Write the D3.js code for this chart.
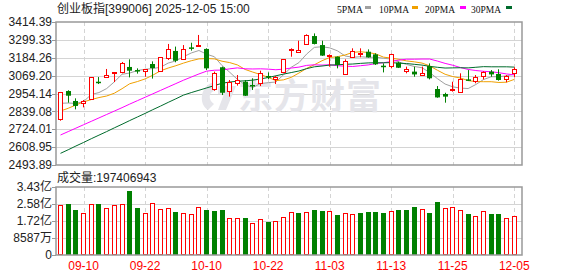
<!DOCTYPE html>
<html><head><meta charset="utf-8">
<script src="https://cdn.jsdelivr.net/npm/d3@7"></script>
<style>body{margin:0;background:#fff;} svg{display:block;}</style>
</head><body>
<svg id="c" width="578" height="276"></svg>
<script>
// ---------- data ----------
const dates = ["09-05","09-08","09-09","09-10","09-11","09-12","09-15","09-16","09-17","09-18",
"09-19","09-22","09-23","09-24","09-25","09-26","09-29","09-30","10-09","10-10",
"10-13","10-14","10-15","10-16","10-17","10-20","10-21","10-22","10-23","10-24",
"10-27","10-28","10-29","10-30","10-31","11-03","11-04","11-05","11-06","11-07",
"11-10","11-11","11-12","11-13","11-14","11-17","11-18","11-19","11-20","11-21",
"11-24","11-25","11-26","11-27","11-28","12-01","12-02","12-03","12-04","12-05"];
const opens = [2792,2970,2906,2895,2919,3030,3058,3084,3095,3125,3105,3101,3144,3097,3180,3228,3174,3251,3262,3241,
2981,3123,2972,3020,3030,3009,3024,3067,3047,3095,3234,3219,3273,3324,3266,3195,3191,3077,3191,3208,
3223,3206,3133,3133,3153,3101,3095,3073,3131,2983,2951,2977,2966,3045,3037,3069,3095,3080,3045,3088];
const highs = [2964,2975,2923,2912,3060,3060,3112,3092,3157,3174,3116,3112,3161,3189,3273,3256,3266,3281,3331,3245,
3095,3127,3041,3073,3041,3052,3101,3090,3067,3176,3245,3294,3335,3341,3294,3206,3193,3174,3245,3245,
3238,3213,3148,3210,3159,3127,3127,3127,3148,3002,2959,3030,3084,3105,3073,3097,3105,3110,3073,3123];
const lows = [2779,2895,2852,2865,2916,3015,3056,3028,3084,3058,3082,3062,3050,3095,3170,3155,3172,3230,3258,3105,
2972,2944,2934,3005,2938,2977,3002,3047,3015,3084,3191,3217,3268,3270,3196,3127,3116,3075,3189,3187,
3185,3138,3090,3116,3118,3084,3062,3071,3045,2927,2895,2966,2964,3035,3020,3045,3062,3037,3026,3058];
const closes = [2962,2940,2874,2906,3058,3022,3071,3090,3148,3101,3099,3110,3118,3187,3238,3165,3240,3243,3268,3116,
3084,2959,3028,3039,2940,3000,3084,3058,3063,3174,3241,3234,3331,3273,3198,3204,3138,3165,3230,3217,
3187,3142,3127,3208,3120,3110,3077,3084,3052,2929,2934,2985,3045,3037,3058,3095,3077,3041,3067,3110];
// volume, in 亿
const volumes = [2.526,2.576,2.273,2.105,2.559,2.576,2.374,2.509,2.559,3.233,
2.374,2.105,2.610,2.324,2.374,2.172,2.121,2.071,2.408,2.273,
2.222,2.273,1.869,1.869,1.869,1.600,1.802,1.667,1.717,1.903,
2.155,2.121,2.155,2.273,2.222,2.206,2.020,2.105,2.054,2.121,
2.172,2.172,2.121,2.222,2.273,2.273,2.425,2.324,2.121,2.677,
2.374,2.425,2.256,2.071,1.970,2.222,2.071,2.071,1.869,1.990];
const ma5 = [2891,2893,2890,2902,2948,2960,2986,3029,3078,3086,3102,3110,3115,3123,3150,3164,3191,3215,3231,3207,
3191,3134,3091,3045,3010,2993,3018,3024,3028,3075,3123,3153,3208,3251,3255,3248,3229,3196,3187,3191,
3187,3188,3181,3176,3157,3141,3128,3120,3089,3050,3015,2997,2989,2986,3012,3044,3062,3062,3068,3078];
const ma10 = [2841,2859,2880,2900,2915,2928,2938,2956,2985,3017,3031,3048,3072,3100,3118,3133,3150,3165,3177,3179,
3177,3162,3153,3138,3109,3092,3076,3058,3037,3042,3058,3086,3116,3139,3165,3186,3191,3202,3219,3223,
3218,3209,3188,3182,3174,3164,3158,3150,3132,3104,3078,3063,3054,3037,3031,3030,3030,3025,3027,3045];
const ma20 = [2687,2709,2731,2753,2775,2797,2819,2841,2863,2886,2908,2930,2952,2974,2996,3018,3040,3060,3080,3098,
3104,3105,3113,3119,3113,3112,3113,3111,3107,3111,3118,3124,3135,3139,3137,3139,3133,3130,3128,3133,
3138,3147,3152,3160,3169,3175,3175,3176,3176,3163,3148,3136,3121,3109,3102,3097,3094,3088,3080,3074];
const ma30 = [2569,2592,2616,2639,2663,2686,2709,2733,2756,2780,2803,2826,2850,2873,2897,2920,2944,2960,2975,2990,
3005,3020,3028,3033,3036,3040,3048,3057,3068,3079,3089,3099,3114,3126,3131,3137,3139,3142,3144,3148,
3151,3152,3152,3153,3149,3147,3142,3137,3129,3123,3118,3119,3120,3119,3123,3127,3126,3126,3126,3124];
const priceTicks = [2493.89,2608.95,2724.01,2839.08,2954.14,3069.20,3184.26,3299.33,3414.39];
const priceTickLabels = ["2493.89","2608.95","2724.01","2839.08","2954.14","3069.20","3184.26","3299.33","3414.39"];
const volTicks = [0,0.8587,1.7174,2.5761,3.4348];
const volTickLabels = ["0","8587万","1.72亿","2.58亿","3.43亿"];
const xTickIdx = [3,11,19,27,35,43,51,59];
const maNames = ["5PMA","10PMA","20PMA","30PMA"];
const maColors = ["#a0a0a0","#f0a000","#ff00ff","#006b2c"];
const title = "创业板指[399006] 2025-12-05 15:00";
const volTitle = "成交量:197406943";

// ---------- layout ----------
const svg = d3.select("#c");
const L=56, R=522, T=22, B=165, VT=187, VB=255;
const RED="#ff0000", GREEN="#008000", GRID="#d4d4d4", FRAME="#999";
const x = d3.scaleBand().domain(d3.range(dates.length)).range([56.65, 518.15]);
const cx = i => x(i) + x.bandwidth()/2;
const y = d3.scaleLinear().domain([2493.89, 3414.39]).range([B, T]);
const yv = d3.scaleLinear().domain([0, 3.4348]).range([VB, VT]);
const font = "'Liberation Sans', Arial, 'Noto Sans CJK SC', sans-serif";

// grids
function hgrid(vals, sc) {
  svg.append("g").selectAll("line").data(vals).join("line")
    .attr("x1", L).attr("x2", R)
    .attr("y1", d => Math.round(sc(d))+0.5).attr("y2", d => Math.round(sc(d))+0.5)
    .attr("stroke", GRID).attr("stroke-width", 1);
}
hgrid(priceTicks.slice(1,-1), y);
hgrid(volTicks.slice(1,-1), yv);
[[T,B],[VT,VB]].forEach(([a,b]) => {
  svg.append("g").selectAll("line").data(xTickIdx).join("line")
    .attr("x1", i => Math.round(cx(i))+0.5).attr("x2", i => Math.round(cx(i))+0.5)
    .attr("y1", a).attr("y2", b)
    .attr("stroke", GRID).attr("stroke-width", 1).attr("stroke-dasharray", "4,3");
});

// watermark
const wm = svg.append("g").attr("fill", "#e5e5ea");
wm.append("path").attr("d", "M214,82 C200,86 198,104 208,110 L214,104 C208,100 208,92 216,90 Z M218,86 L236,86 L226,110 L218,110 L224,94 L218,94 Z");
wm.append("text").attr("x", 238).attr("y", 109).attr("font-size", 35).attr("font-weight", "bold")
  .attr("font-family", "'Noto Sans CJK SC', sans-serif").attr("letter-spacing", "1").text("东方财富");

// y axis tick labels
svg.append("g").selectAll("text").data(priceTicks).join("text")
  .attr("x", 52).attr("y", d => y(d)).attr("dy", "0.35em")
  .attr("text-anchor", "end").attr("font-size", 12).attr("font-family", font).attr("fill", "#222")
  .text((d,i) => priceTickLabels[i]);
svg.append("g").selectAll("line").data(priceTicks).join("line")
  .attr("x1", 52).attr("x2", L).attr("y1", d => Math.round(y(d))+0.5).attr("y2", d => Math.round(y(d))+0.5)
  .attr("stroke", FRAME);
svg.append("g").selectAll("text").data(volTicks).join("text")
  .attr("x", 52).attr("y", d => yv(d)).attr("dy", "0.35em")
  .attr("text-anchor", "end").attr("font-size", 12).attr("font-family", font).attr("fill", "#222")
  .text((d,i) => volTickLabels[i]);
svg.append("g").selectAll("line").data(volTicks).join("line")
  .attr("x1", 52).attr("x2", L).attr("y1", d => Math.round(yv(d))+0.5).attr("y2", d => Math.round(yv(d))+0.5)
  .attr("stroke", FRAME);

// x labels
svg.append("g").selectAll("text").data(xTickIdx).join("text")
  .attr("x", i => cx(i)).attr("y", 270).attr("text-anchor", "middle")
  .attr("font-size", 12).attr("font-family", font).attr("fill", RED)
  .text(i => dates[i]);

// MA lines
const mas = [ma5, ma10, ma20, ma30];
mas.forEach((arr, k) => {
  svg.append("path").datum(arr)
    .attr("fill", "none").attr("stroke", maColors[k]).attr("stroke-width", 1)
    .attr("d", d3.line().x((d,i) => cx(i)).y(d => y(d)));
});

// candles
const cg = svg.append("g");
dates.forEach((d, i) => {
  const up = closes[i] >= opens[i];
  const col = up ? RED : GREEN;
  const xl = Math.round(cx(i) - 2.5);
  const xm = xl + 2.5;
  cg.append("line").attr("x1", xm).attr("x2", xm).attr("y1", y(highs[i])).attr("y2", y(lows[i]))
    .attr("stroke", col).attr("stroke-width", 1);
  const top = y(Math.max(opens[i], closes[i])), bot = y(Math.min(opens[i], closes[i]));
  if (up) {
    cg.append("rect").attr("x", xl+0.5).attr("y", Math.round(top)+0.5).attr("width", 4)
      .attr("height", Math.max(1, Math.round(bot)-Math.round(top)))
      .attr("fill", "#fff").attr("stroke", col).attr("stroke-width", 1);
  } else {
    cg.append("rect").attr("x", xl).attr("y", top).attr("width", 5)
      .attr("height", Math.max(1.5, bot-top)).attr("fill", col);
  }
});

// volume bars
const vg = svg.append("g");
volumes.forEach((v, i) => {
  const prev = i === 0 ? opens[0] : closes[i-1];
  const up = closes[i] >= prev;
  const xl = Math.round(cx(i) - 2.5);
  const top = Math.round(yv(v));
  if (up) {
    vg.append("rect").attr("x", xl+0.5).attr("y", top+0.5).attr("width", 4).attr("height", VB - top - 1)
      .attr("fill", "#fff").attr("stroke", RED).attr("stroke-width", 1);
  } else {
    vg.append("rect").attr("x", xl).attr("y", top).attr("width", 5).attr("height", VB - top).attr("fill", GREEN);
  }
});

// frames
svg.append("rect").attr("x", L).attr("y", T).attr("width", R-L).attr("height", B-T)
  .attr("fill", "none").attr("stroke", FRAME).attr("stroke-width", 1.5);
svg.append("rect").attr("x", L).attr("y", VT).attr("width", R-L).attr("height", VB-VT)
  .attr("fill", "none").attr("stroke", FRAME).attr("stroke-width", 1.5);

// titles
svg.append("text").attr("x", 57).attr("y", 13).attr("font-size", 12).attr("font-family", font)
  .attr("fill", "#222").text(title);
svg.append("text").attr("x", 57).attr("y", 182).attr("font-size", 12).attr("font-family", font)
  .attr("fill", "#222").text(volTitle);

// legend
const legX = [337, 379, 425, 471];
const swX = [365, 412, 460, 506];
maNames.forEach((n, k) => {
  svg.append("text").attr("x", legX[k]).attr("y", 12.5).attr("font-size", 11)
    .attr("font-family", "'Liberation Serif', 'Times New Roman', serif").attr("fill", "#111")
    .attr("textLength", k === 0 ? 26 : 30).attr("lengthAdjust", "spacingAndGlyphs").text(n);
  svg.append("rect").attr("x", swX[k]).attr("y", 6).attr("width", 6).attr("height", 3).attr("fill", maColors[k]);
});
</script>
</body></html>
